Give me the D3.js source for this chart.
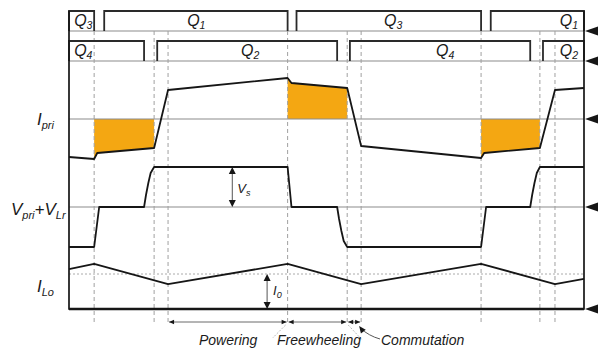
<!DOCTYPE html>
<html><head><meta charset="utf-8">
<script src="https://cdn.jsdelivr.net/npm/d3@7"></script>
<style>
body{margin:0;background:#fff}
svg{display:block}
text{font-family:"Liberation Sans",Arial,sans-serif;font-style:italic;fill:#1a1a1a}
</style>
</head><body>
<svg width="601" height="348"></svg>
<script>
// Time runs in units where one switching period = 10
const tStart = -0.65, tEnd = 12.66;

// Gate signals: [on, off, subscript]
const gateQ13 = [[-0.65, 0, '3'], [0.26, 5.0, '1'], [5.23, 10, '3'], [10.25, 12.66, '1']];
const gateQ24 = [[-0.65, 1.29, '4'], [1.63, 6.28, '2'], [6.61, 11.27, '4'], [11.6, 12.66, '2']];
const gateQ13LabelAt = [-0.28, 2.64, 7.73, 12.27];
const gateQ24LabelAt = [-0.28, 4.03, 9.07, 12.27];

// Interval boundaries (dashed markers)
const eventTimes = [0, 1.55, 1.91, 5.0, 6.54, 6.9, 10, 11.52, 11.91];

// Primary current I_pri: [t, I]
const iPri = [[-0.65, -3.8], [0, -4.0], [0.08, -3.4], [1.55, -2.9], [1.91, 2.9], [5.0, 4.1], [5.1, 3.6],
              [6.54, 3.1], [6.9, -2.7], [10, -3.9], [10.08, -3.4], [11.52, -2.9], [11.91, 2.9], [12.66, 3.1]];
// Shaded circulating-current intervals: [from, to]
const shaded = [[0, 1.55], [5.0, 6.54], [10, 11.52]];

// V_pri + V_Lr in units of Vs: [t, V]
const vPri = [[-0.65, -1], [0, -1], [0.13, 0], [1.29, 0], [1.34, 0.3], [1.40, 0.6], [1.46, 0.85], [1.55, 1],
              [5.0, 1], [5.1, 0], [6.28, 0], [6.33, -0.3], [6.39, -0.6], [6.45, -0.85], [6.54, -1],
              [10, -1], [10.13, 0], [11.27, 0], [11.32, 0.3], [11.38, 0.6], [11.44, 0.85], [11.52, 1], [12.66, 1]];

// Output inductor current in units of Io: [t, I]
const iLo = [[-0.65, 1.14], [0, 1.29], [1.91, 0.71], [5.0, 1.29], [6.9, 0.71], [10, 1.29], [11.91, 0.71], [12.66, 0.86]];

// Dimension markers
const vsAt = 3.57, ioAt = 4.47;
const intervals = [[1.91, 5.0, 'Powering'], [5.0, 6.54, 'Freewheeling'], [6.54, 6.9, 'Commutation']];

const svg = d3.select('svg');
const x = d3.scaleLinear().domain([tStart, tEnd]).range([69, 584]);
const yI = d3.scaleLinear().domain([-5, 5]).range([169, 69]);
const yV = d3.scaleLinear().domain([-1, 1]).range([247, 167]);
const yL = d3.scaleLinear().domain([0, 1]).range([309, 274]);
const row1 = {top: 11, base: 31}, row2 = {top: 41, base: 61};
const black = '#161616', grey = '#8c8c8c';

// shaded areas under I_pri
const ipInterp = t => {
  for (let i = 1; i < iPri.length; i++) {
    const [t0, v0] = iPri[i - 1], [t1, v1] = iPri[i];
    if (t >= t0 && t <= t1) return v0 + (v1 - v0) * (t - t0) / (t1 - t0);
  }
  return 0;
};
shaded.forEach(([a, b]) => {
  const pts = [[a, ipInterp(a)], ...iPri.filter(d => d[0] > a && d[0] < b), [b, ipInterp(b)]];
  svg.append('path')
    .datum(pts)
    .attr('fill', '#f4a712')
    .attr('d', d3.area().x(d => x(d[0])).y0(yI(0)).y1(d => yI(d[1])));
});

// grey reference lines
[row1.base, row2.base, yI(0), yV(0)].forEach(y =>
  svg.append('line').attr('x1', x(tStart)).attr('x2', x(tEnd)).attr('y1', y).attr('y2', y)
    .attr('stroke', grey).attr('stroke-width', 1.1));
svg.append('line').attr('x1', x(tStart)).attr('x2', x(tEnd)).attr('y1', yL(1)).attr('y2', yL(1))
  .attr('stroke', '#aaa').attr('stroke-width', 1).attr('stroke-dasharray', '2,2');

// dashed event markers
svg.selectAll('line.ev').data(eventTimes).join('line').attr('class', 'ev')
  .attr('x1', d => x(d)).attr('x2', d => x(d)).attr('y1', row1.base).attr('y2', 325)
  .attr('stroke', '#a0a0a0').attr('stroke-width', 1).attr('stroke-dasharray', '4,3');

// gate pulses
const drawGate = (data, row) => data.forEach(([on, off]) => {
  svg.append('path')
    .attr('d', `M${x(on)},${row.base}V${row.top}H${x(off)}V${row.base}`)
    .attr('fill', 'none').attr('stroke', '#2a2a2a').attr('stroke-width', 1.8);
});
drawGate(gateQ13, row1);
drawGate(gateQ24, row2);

const addLabel = (px, py, parts, anchor) => {
  const t = svg.append('text').attr('x', px).attr('y', py).attr('text-anchor', anchor || 'start');
  parts.forEach(([s, size, dy]) => t.append('tspan').text(s).attr('font-size', size).attr('dy', dy || 0));
  return t;
};
gateQ13.forEach((g, i) => addLabel(x(gateQ13LabelAt[i]), 26, [['Q', 16], [g[2], 10.5, 3]], 'middle'));
gateQ24.forEach((g, i) => addLabel(x(gateQ24LabelAt[i]), 56, [['Q', 16], [g[2], 10.5, 3]], 'middle'));

// waveforms
const wave = (data, y) => svg.append('path').datum(data)
  .attr('fill', 'none').attr('stroke', black).attr('stroke-width', 1.8).attr('stroke-linejoin', 'round')
  .attr('d', d3.line().x(d => x(d[0])).y(d => y(d[1])));
wave(iPri, yI);
wave(vPri, yV);
wave(iLo, yL);

// frame
svg.append('path').attr('d', `M${x(tStart)},${row1.top}V${yL(0)}H${x(tEnd)}V${row1.top}`)
  .attr('fill', 'none').attr('stroke', black).attr('stroke-width', 1.7);
svg.append('line').attr('x1', x(tStart)).attr('x2', x(tEnd)).attr('y1', yL(0)).attr('y2', yL(0))
  .attr('stroke', black).attr('stroke-width', 2.3);

// axis arrows at right
[row1.base, row2.base, yI(0), yV(0), yL(0)].forEach(y =>
  svg.append('path').attr('d', `M${x(tEnd) + 1},${y}L${x(tEnd) + 14},${y - 4.5}L${x(tEnd) + 14},${y + 4.5}Z`)
    .attr('fill', black));

// small arrowhead helper: tip at (px,py), pointing along (dx,dy)
const head = (px, py, dx, dy, len, w) => {
  const bx = px - dx * len, by = py - dy * len;
  svg.append('path').attr('d', `M${px},${py}L${bx - dy * w},${by + dx * w}L${bx + dy * w},${by - dx * w}Z`)
    .attr('fill', black);
};

// Vs dimension
svg.append('line').attr('x1', x(vsAt)).attr('x2', x(vsAt)).attr('y1', yV(1) + 2).attr('y2', yV(0) - 2)
  .attr('stroke', '#555').attr('stroke-width', 1);
head(x(vsAt), yV(1), 0, -1, 7, 3.5);
head(x(vsAt), yV(0), 0, 1, 7, 3.5);
addLabel(x(vsAt) + 5, 193, [['V', 13], ['s', 9, 3]]);

// Io dimension
svg.append('line').attr('x1', x(ioAt)).attr('x2', x(ioAt)).attr('y1', yL(1) + 2).attr('y2', yL(0) - 2)
  .attr('stroke', '#555').attr('stroke-width', 1);
head(x(ioAt), yL(1), 0, -1, 7, 3.5);
head(x(ioAt), yL(0), 0, 1, 7, 3.5);
addLabel(x(ioAt) + 6, 295, [['I', 13], ['0', 9, 3]]);

// interval arrows
const yArr = 322;
intervals.forEach(([a, b]) => {
  const xa = x(a) + 1, xb = x(b) - 1;
  svg.append('line').attr('x1', xa).attr('x2', xb).attr('y1', yArr).attr('y2', yArr)
    .attr('stroke', '#444').attr('stroke-width', 0.8);
  head(xa, yArr, -1, 0, 5, 2.2);
  head(xb, yArr, 1, 0, 5, 2.2);
});
// leaders
svg.append('line').attr('x1', x(5.0) - 2).attr('y1', 325).attr('x2', x(5.0) - 15).attr('y2', 338)
  .attr('stroke', '#aaa').attr('stroke-width', 0.8).attr('stroke-dasharray', '2,1.5');
svg.append('line').attr('x1', x(6.54) + 1).attr('y1', 325).attr('x2', x(6.54) + 15).attr('y2', 340)
  .attr('stroke', '#aaa').attr('stroke-width', 0.8).attr('stroke-dasharray', '2,1.5');
svg.append('path').attr('d', `M380,339Q369,336 ${x(6.9) - 1},${yArr + 6}`)
  .attr('fill', 'none').attr('stroke', '#444').attr('stroke-width', 0.9);
head(x(6.9) - 2, yArr + 4, -0.6, -0.8, 7, 3);

addLabel(199, 345, [[intervals[0][2], 14]]);
addLabel(277, 345, [[intervals[1][2], 14]]);
addLabel(381, 345, [[intervals[2][2], 14]]);

// row titles
addLabel(37, 125, [['I', 17], ['pri', 11, 4]]);
addLabel(11, 215, [['V', 17], ['pri', 11, 4], ['+V', 17, -4], ['Lr', 11, 4]]);
addLabel(37, 292, [['I', 17], ['Lo', 11, 4]]);
</script>
</body></html>
